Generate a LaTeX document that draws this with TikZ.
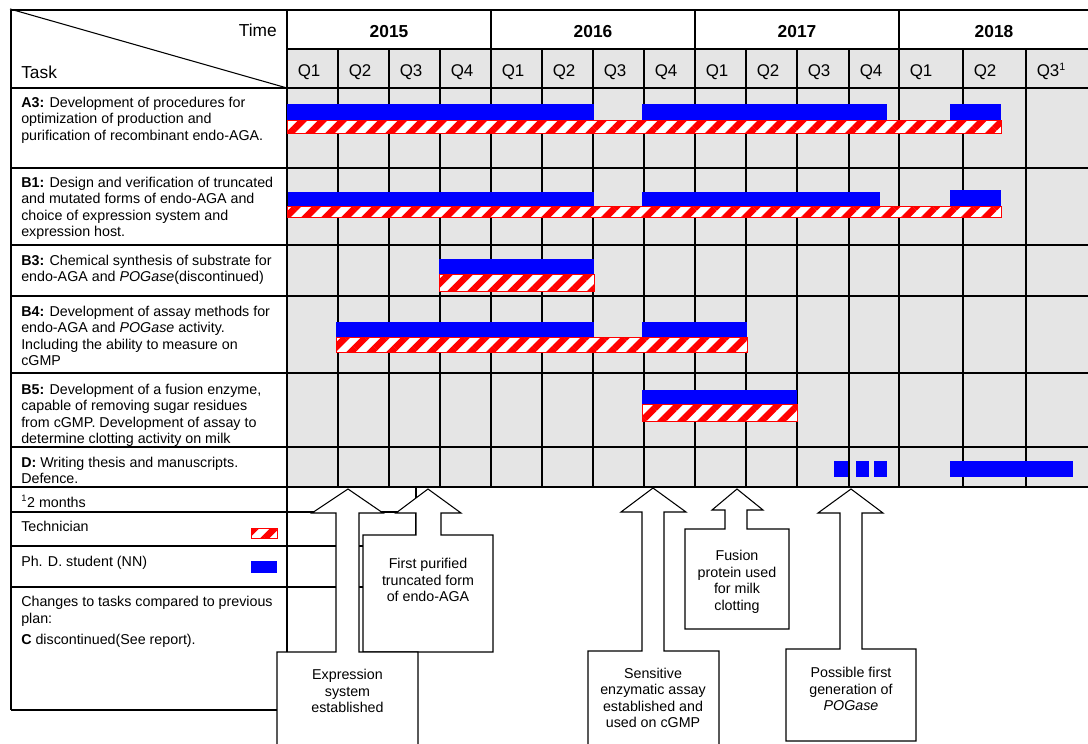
\documentclass[tikz,border=0pt]{standalone}
\usepackage{fontspec}
\setmainfont{Liberation Sans}
\usetikzlibrary{patterns.meta}
\definecolor{cellgray}{RGB}{229,229,229}
\definecolor{barblue}{RGB}{0,0,255}
\begin{document}
\begin{tikzpicture}[x=0.75pt,y=-0.75pt,
  grid/.style={line width=0.8pt, draw=black},
  phd/.style={fill=barblue, draw=none},
  tech/.style={preaction={fill=white}, pattern={Lines[angle=45,distance=10.6pt,line width=5pt]}, pattern color=red, draw=red, line width=0.6pt},
  task/.style={anchor=north west, inner sep=0pt, align=left, font=\fontsize{10.7}{12.25}\selectfont},
  lbl/.style={anchor=base west, inner sep=0pt, font=\fontsize{10.7}{12.25}\selectfont},
  hdr/.style={inner sep=0pt, font=\fontsize{13}{15}\selectfont},
  yr/.style={anchor=base, inner sep=0pt, font=\fontsize{13}{15}\selectfont\bfseries},
  qt/.style={anchor=base west, inner sep=0pt, font=\fontsize{12.7}{15}\selectfont},
  callout/.style={fill=white, draw=black, line width=0.8pt},
  ctext/.style={align=center, inner sep=0pt, font=\fontsize{10.7}{12.4}\selectfont}
]
\useasboundingbox (0,0) rectangle (1088,743);

% gray timeline area
\fill[cellgray] (287,49) rectangle (1088,487);

% grid lines
\draw[grid] (11,10) -- (1088,10);
\draw[grid] (287,49) -- (1088,49);
\foreach \yy in {88,168,245,296,373,447,487} \draw[grid] (11,\yy) -- (1088,\yy);
\draw[grid] (11,10) -- (11,710);
\draw[grid] (287,10) -- (287,710);
\foreach \xx in {491,695,899} \draw[grid] (\xx,10) -- (\xx,487);
\foreach \xx in {338,389,440,542,593,644,746,797,849,963,1026} \draw[grid] (\xx,49) -- (\xx,487);
\foreach \yy in {512,546,587,710} \draw[grid] (11,\yy) -- (416,\yy);
\draw[grid] (416,487) -- (416,710);
\draw[grid] (10,9) -- (287,88);

% bars: A3
\path[tech] (287,120) rectangle (1001,133);
\path[phd] (287,104) rectangle (594,120);
\path[phd] (642,104) rectangle (887,120);
\path[phd] (950,104) rectangle (1001,120);
% B1
\path[tech] (287,206) rectangle (1001,217);
\path[phd] (288,192) rectangle (594,206);
\path[phd] (642,192) rectangle (880,206);
\path[phd] (950,190) rectangle (1001,206);
% B3
\path[tech] (439,274) rectangle (594,291);
\path[phd] (439,259) rectangle (594,274);
% B4
\path[tech] (336,337) rectangle (747,352);
\path[phd] (336,322) rectangle (594,337);
\path[phd] (642,322) rectangle (747,337);
% B5
\path[tech] (642,404) rectangle (797,421);
\path[phd] (642,390) rectangle (797,404);
% D
\path[phd] (834,461) rectangle (848,477);
\path[phd] (856,461) rectangle (869,477);
\path[phd] (874,461) rectangle (887,477);
\path[phd] (950,461) rectangle (1073,477);

% header texts
\node[hdr, anchor=base east] (time) at (277,36.5) {Time};
\node[hdr, anchor=base west] (taskh) at (21,78) {Task};
\node[yr] (y15) at (389,37) {2015};
\node[yr] (y16) at (593,37) {2016};
\node[yr] (y17) at (797,37) {2017};
\node[yr] (y18) at (994,37) {2018};
\foreach \xx/\q [count=\i] in {287/Q1,338/Q2,389/Q3,440/Q4,491/Q1,542/Q2,593/Q3,644/Q4,695/Q1,746/Q2,797/Q3,849/Q4,899/Q1,963/Q2}
  \node[qt] (q\i) at (\xx+10.5,76.5) {\q};
\node[qt] (q15) at (1036.5,76.5) {Q3\textsuperscript{\fontsize{8}{9}\selectfont 1}};

% task texts
\node[task] (ta3) at (21,97) {\textbf{A3:} Development of procedures for\\optimization of production and\\purification of recombinant endo-AGA.};
\node[task] (tb1) at (21,177) {\textbf{B1:} Design and verification of truncated\\and mutated forms of endo-AGA and\\choice of expression system and\\expression host.};
\node[task] (tb3) at (21,255) {\textbf{B3:} Chemical synthesis of substrate for\\endo-AGA and \textit{POGase}(discontinued)};
\node[task] (tb4) at (21,306) {\textbf{B4:} Development of assay methods for\\endo-AGA and \textit{POGase} activity.\\Including the ability to measure on\\cGMP};
\node[task] (tb5) at (21,384) {\textbf{B5:} Development of a fusion enzyme,\\capable of removing sugar residues\\from cGMP. Development of assay to\\determine clotting activity on milk};
\node[task] (td) at (21,457) {\textbf{D:} Writing thesis and manuscripts.\\Defence.};

% bottom legend
\node[lbl] (note) at (21,507) {\textsuperscript{\fontsize{7}{8}\selectfont 1}2 months};
\node[lbl] (techl) at (21,531) {Technician};
\node[lbl] (phdl) at (21,566) {Ph. D. student (NN)};
\path[tech] (251,528) rectangle (277,538);
\path[phd] (251,561) rectangle (277,573);
\node[lbl] (chg1) at (21,606) {Changes to tasks compared to previous};
\node[lbl] (chg2) at (21,623) {plan:};
\node[lbl] (chg3) at (21,644) {\textbf{C} discontinued(See report).};

% callouts
\draw[callout] (363,652) -- (363,535) -- (416,535) -- (416,513) -- (396,513) -- (428,489) -- (461,513) -- (441,513) -- (441,535) -- (493,535) -- (493,652) -- cycle;
\draw[callout] (277,770) -- (277,652) -- (336,652) -- (336,513) -- (312,513) -- (348,489) -- (383,513) -- (359,513) -- (359,652) -- (418,652) -- (418,770);
\draw[callout] (588,770) -- (588,651) -- (642,651) -- (642,512) -- (621,512) -- (653,488) -- (686,512) -- (664,512) -- (664,651) -- (719,651) -- (719,770);
\draw[callout] (685,629) -- (685,529) -- (725,529) -- (725,510) -- (712,510) -- (737,489) -- (763,510) -- (747,510) -- (747,529) -- (789,529) -- (789,629) -- cycle;
\draw[callout] (786,741) -- (786,649) -- (840,649) -- (840,513) -- (818,513) -- (851,489) -- (883,513) -- (862,513) -- (862,649) -- (916,649) -- (916,741) -- cycle;

\node[ctext] (c1) at (347.5,691) {Expression\\system\\established};
\node[ctext] (c2) at (428,580) {First purified\\truncated form\\of endo-AGA};
\node[ctext] (c3) at (653,698) {Sensitive\\enzymatic assay\\established and\\used on cGMP};
\node[ctext] (c4) at (737,582) {Fusion\\protein used\\for milk\\clotting};
\node[ctext] (c5) at (851,689) {Possible first\\generation of\\\textit{POGase}};
\end{tikzpicture}
\end{document}
